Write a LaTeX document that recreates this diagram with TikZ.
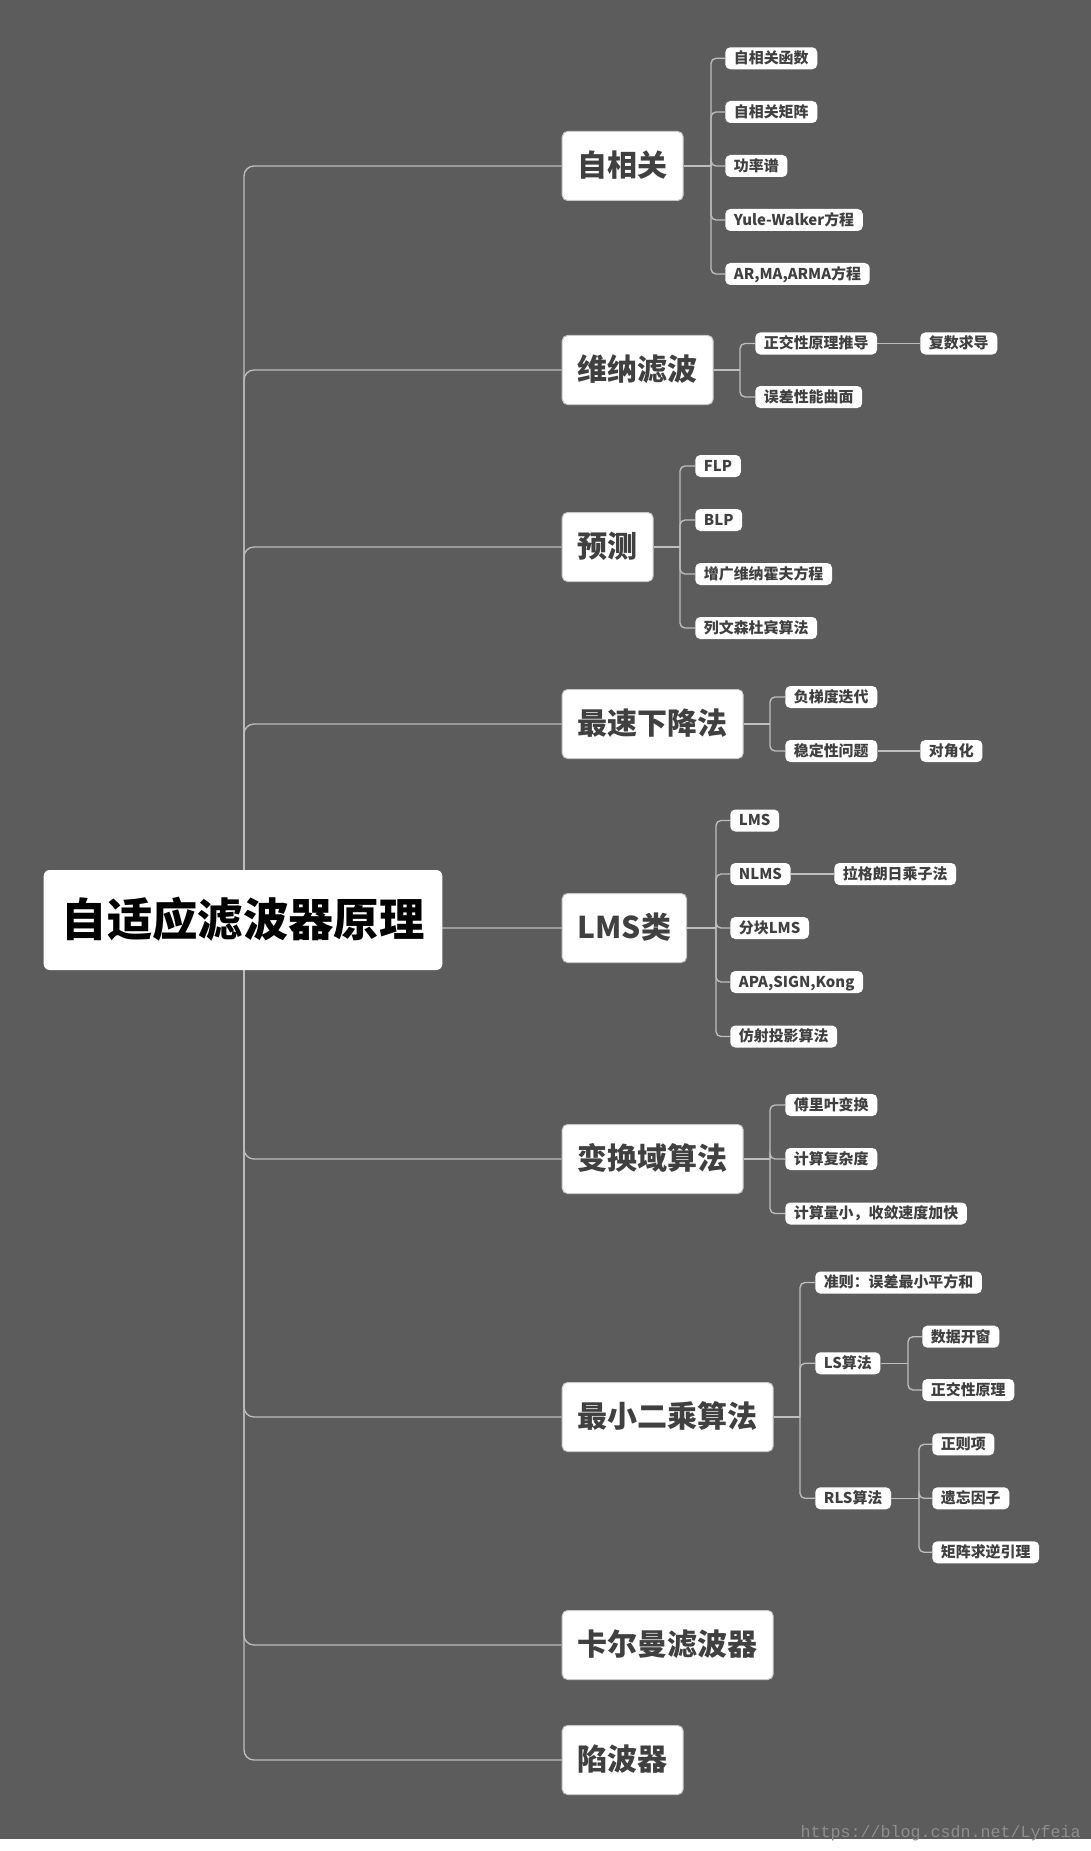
\documentclass[tikz,border=0pt]{standalone}
\usepackage{fontspec}
\newfontfamily\cjk{Noto Sans CJK SC}
\newfontfamily\wmfont{Liberation Mono}
\usetikzlibrary{backgrounds}
\definecolor{bggray}{HTML}{5C5C5C}
\definecolor{linegray}{HTML}{BEBEBE}
\definecolor{txtgray}{HTML}{404040}
\definecolor{boxline}{HTML}{C8C8C8}
\definecolor{wmgray}{HTML}{8E8E8E}
\tikzset{
  rootbox/.style={fill=white, rounded corners=4.5pt, inner xsep=13.5pt, inner ysep=0pt,
    minimum height=75pt, text height=27pt, text depth=3pt, text=black,
    font=\cjk\bfseries\fontsize{34pt}{40pt}\selectfont},
  topic/.style={fill=white, draw=boxline, line width=0.75pt, rounded corners=4pt,
    inner xsep=11.6pt, inner ysep=0pt, minimum height=51.75pt, text height=18pt,
    text depth=2.2pt, anchor=west, text=txtgray,
    font=\cjk\bfseries\fontsize{22.5pt}{27pt}\selectfont},
  subtopic/.style={fill=white, rounded corners=3.75pt, inner xsep=6.5pt, inner ysep=0pt,
    minimum height=16.5pt, text height=9pt, text depth=1pt, anchor=west, text=txtgray,
    font=\cjk\bfseries\fontsize{11.2pt}{13pt}\selectfont},
  conn/.style={draw=linegray, line width=1pt, rounded corners=3.75pt},
  trunkline/.style={draw=linegray, line width=1pt, rounded corners=7.5pt},
}
\begin{document}
\begin{tikzpicture}[x=0.75pt,y=0.75pt,yscale=-1,xscale=1]
\useasboundingbox (0,0) rectangle (1091,1851);

% Root
\node[rootbox] (root) at (243,920) {自适应滤波器原理};
\coordinate (trunk) at (244,920);

% Main topics
\node[topic] (zxg) at (561.7,166) {自相关};
\node[topic] (wnlb) at (561.7,370) {维纳滤波};
\node[topic] (yc) at (561.7,547) {预测};
\node[topic] (zsxj) at (561.7,724) {最速下降法};
\node[topic] (lms) at (561.7,928) {LMS类};
\node[topic] (bhy) at (561.7,1159) {变换域算法};
\node[topic] (zxec) at (561.7,1417) {最小二乘算法};
\node[topic] (kem) at (561.7,1645) {卡尔曼滤波器};
\node[topic] (xbq) at (561.7,1760) {陷波器};

% Autocorrelation
\node[subtopic] (zxg-hs) at (725,58.3) {自相关函数};
\node[subtopic] (zxg-jz) at (725,112) {自相关矩阵};
\node[subtopic] (zxg-glp) at (725,166) {功率谱};
\node[subtopic] (zxg-yw) at (725,220) {Yule-Walker方程};
\node[subtopic] (zxg-ar) at (725,274) {AR,MA,ARMA方程};
\coordinate (zxg-b) at (711,166);

% Wiener
\node[subtopic] (wnlb-zj) at (755,343.5) {正交性原理推导};
\node[subtopic] (wnlb-qm) at (755,397) {误差性能曲面};
\node[subtopic] (wnlb-fs) at (920,343.5) {复数求导};
\coordinate (wnlb-b) at (740,370);

% Prediction
\node[subtopic] (yc-flp) at (695,466) {FLP};
\node[subtopic] (yc-blp) at (695,520) {BLP};
\node[subtopic] (yc-zg) at (695,574) {增广维纳霍夫方程};
\node[subtopic] (yc-lw) at (695,628) {列文森杜宾算法};
\coordinate (yc-b) at (680,547);

% Steepest descent
\node[subtopic] (zsxj-td) at (785,697) {负梯度迭代};
\node[subtopic] (zsxj-wd) at (785,751) {稳定性问题};
\node[subtopic] (zsxj-dj) at (920,751) {对角化};
\coordinate (zsxj-b) at (770,724);

% LMS
\node[subtopic] (lms-lms) at (730,820.5) {LMS};
\node[subtopic] (lms-nlms) at (730,874) {NLMS};
\node[subtopic] (lms-fk) at (730,928) {分块LMS};
\node[subtopic] (lms-apa) at (730,982) {APA,SIGN,Kong};
\node[subtopic] (lms-fs) at (730,1036.5) {仿射投影算法};
\node[subtopic] (lms-lg) at (834,874) {拉格朗日乘子法};
\coordinate (lms-b) at (716,928);

% Transform domain
\node[subtopic] (bhy-fl) at (785,1105) {傅里叶变换};
\node[subtopic] (bhy-fz) at (785,1159) {计算复杂度};
\node[subtopic] (bhy-sl) at (785,1213.5) {计算量小，收敛速度加快};
\coordinate (bhy-b) at (770,1159);

% Least squares
\node[subtopic] (zxec-zz) at (815,1282.5) {准则：误差最小平方和};
\node[subtopic] (zxec-ls) at (815,1363.3) {LS算法};
\node[subtopic] (zxec-rls) at (815,1498.3) {RLS算法};
\coordinate (zxec-b) at (800,1417);
\node[subtopic] (ls-kc) at (922,1336.7) {数据开窗};
\node[subtopic] (ls-zj) at (922,1390) {正交性原理};
\coordinate (ls-b) at (908,1363.3);
\node[subtopic] (rls-zz) at (932,1444.3) {正则项};
\node[subtopic] (rls-yw) at (932,1498.3) {遗忘因子};
\node[subtopic] (rls-jz) at (932,1552.3) {矩阵求逆引理};
\coordinate (rls-b) at (919,1498.3);

% Watermark
\node[anchor=base east, inner sep=0pt, text=wmgray,
  font=\wmfont\fontsize{12.5pt}{14pt}\selectfont] (wm) at (1081,1837) {https://blog.csdn.net/Lyfeia};

\begin{pgfonlayer}{background}
\fill[white] (0,0) rectangle (1091,1851);
\fill[bggray] (0,0) rectangle (1091,1839);

% Trunk
\draw[trunkline] (trunk) |- (zxg.west);
\draw[trunkline] (trunk) |- (wnlb.west);
\draw[trunkline] (trunk) |- (yc.west);
\draw[trunkline] (trunk) |- (zsxj.west);
\draw[trunkline] (trunk) |- (lms.west);
\draw[trunkline] (trunk) |- (bhy.west);
\draw[trunkline] (trunk) |- (zxec.west);
\draw[trunkline] (trunk) |- (kem.west);
\draw[trunkline] (trunk) |- (xbq.west);

% Branches
\draw[conn] (zxg.east) -- (zxg-b);
\draw[conn] (zxg-b) |- (zxg-hs.west);
\draw[conn] (zxg-b) |- (zxg-jz.west);
\draw[conn] (zxg-b) |- (zxg-glp.west);
\draw[conn] (zxg-b) |- (zxg-yw.west);
\draw[conn] (zxg-b) |- (zxg-ar.west);

\draw[conn] (wnlb.east) -- (wnlb-b);
\draw[conn] (wnlb-b) |- (wnlb-zj.west);
\draw[conn] (wnlb-b) |- (wnlb-qm.west);
\draw[conn] (wnlb-zj.east) -- (wnlb-fs.west);

\draw[conn] (yc.east) -- (yc-b);
\draw[conn] (yc-b) |- (yc-flp.west);
\draw[conn] (yc-b) |- (yc-blp.west);
\draw[conn] (yc-b) |- (yc-zg.west);
\draw[conn] (yc-b) |- (yc-lw.west);

\draw[conn] (zsxj.east) -- (zsxj-b);
\draw[conn] (zsxj-b) |- (zsxj-td.west);
\draw[conn] (zsxj-b) |- (zsxj-wd.west);
\draw[conn] (zsxj-wd.east) -- (zsxj-dj.west);

\draw[conn] (lms.east) -- (lms-b);
\draw[conn] (lms-b) |- (lms-lms.west);
\draw[conn] (lms-b) |- (lms-nlms.west);
\draw[conn] (lms-b) |- (lms-fk.west);
\draw[conn] (lms-b) |- (lms-apa.west);
\draw[conn] (lms-b) |- (lms-fs.west);
\draw[conn] (lms-nlms.east) -- (lms-lg.west);

\draw[conn] (bhy.east) -- (bhy-b);
\draw[conn] (bhy-b) |- (bhy-fl.west);
\draw[conn] (bhy-b) |- (bhy-fz.west);
\draw[conn] (bhy-b) |- (bhy-sl.west);

\draw[conn] (zxec.east) -- (zxec-b);
\draw[conn] (zxec-b) |- (zxec-zz.west);
\draw[conn] (zxec-b) |- (zxec-ls.west);
\draw[conn] (zxec-b) |- (zxec-rls.west);
\draw[conn] (zxec-ls.east) -- (ls-b);
\draw[conn] (ls-b) |- (ls-kc.west);
\draw[conn] (ls-b) |- (ls-zj.west);
\draw[conn] (zxec-rls.east) -- (rls-b);
\draw[conn] (rls-b) |- (rls-zz.west);
\draw[conn] (rls-b) |- (rls-yw.west);
\draw[conn] (rls-b) |- (rls-jz.west);
\end{pgfonlayer}

\end{tikzpicture}
\end{document}
